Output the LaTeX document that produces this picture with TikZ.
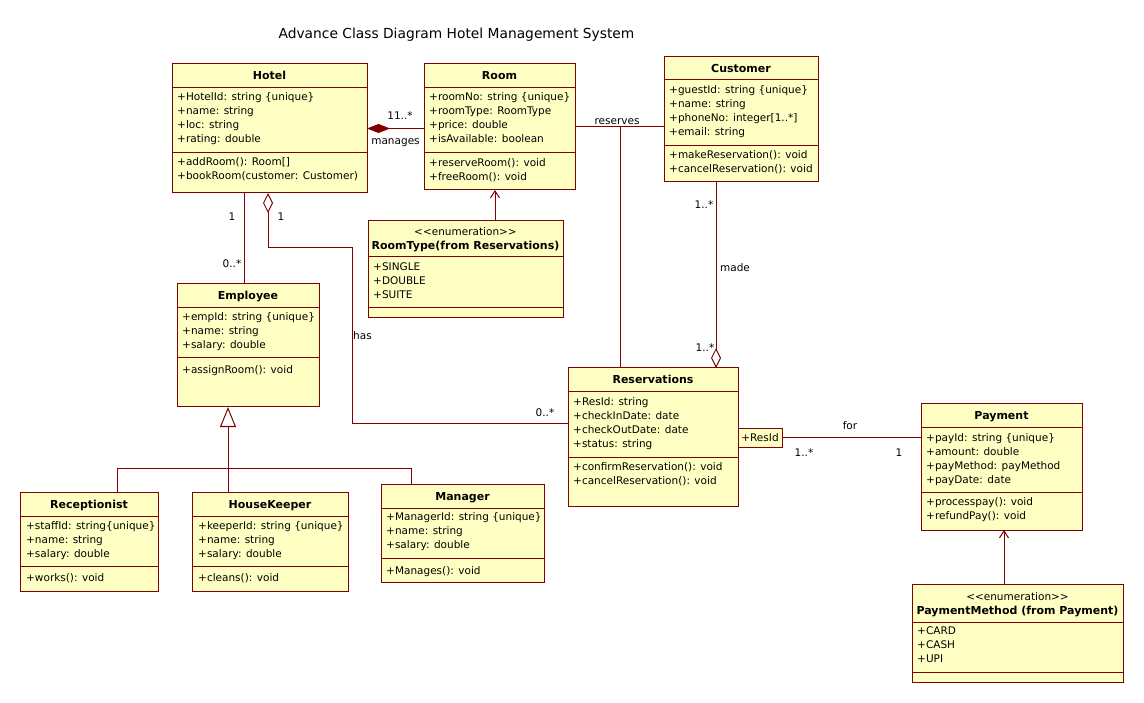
\documentclass[tikz,border=0pt]{standalone}
\usepackage{fontspec}
\setmainfont{DejaVu Sans}
\usepackage{tikz}
\usetikzlibrary{arrows.meta,positioning,calc}
\definecolor{umlline}{RGB}{128,0,0}
\definecolor{umlfill}{RGB}{255,255,196}

\begin{document}
\begin{tikzpicture}[x=1pt,y=-1pt,
  box/.style={draw=umlline,fill=umlfill,line width=1pt,inner sep=0pt,outer sep=0pt,anchor=north west},
  cname/.style={font=\bfseries\fontsize{11}{13}\selectfont,inner sep=0pt,anchor=base},
  stereo/.style={font=\fontsize{10.5}{13}\selectfont,inner sep=0pt,anchor=base},
  members/.style={font=\fontsize{10.5}{14}\selectfont,inner sep=0pt,anchor=north west,align=left,execute at begin node=\strut},
  lbl/.style={font=\fontsize{10.5}{13}\selectfont,inner sep=0pt},
  rel/.style={draw=umlline,line width=1pt},
  comp/.style={{Diamond[length=23pt,width=9pt,fill=umlline]}-},
  aggr/.style={{Diamond[length=20pt,width=10pt,fill=white]}-},
  navi/.style={-{Straight Barb[length=7pt,width=9pt]}},
  inherit/.style={{Triangle[length=20pt,width=16pt,fill=white]}-}]
\fill[white] (0,0) rectangle (1144,703);
\useasboundingbox (0,0) rectangle (1144,703);

\node[font=\fontsize{13.8}{16}\selectfont,inner sep=0pt] (title) at (456.5,35) {Advance Class Diagram Hotel Management System};

% Hotel
\node[box,minimum width=195pt,minimum height=129pt] (hotel) at (172,64) {};
\draw[rel] (172,87.5) -- (367,87.5) (172,152.5) -- (367,152.5);
\node[cname] (hotel-t) at (269.5,80) {Hotel};
\node[members] (hotel-a) at (177,92.5) {+HotelId: string \{unique\}\\+name: string\\+loc: string\\+rating: double};
\node[members] (hotel-o) at (177,157.5) {+addRoom(): Room[]\\+bookRoom(customer: Customer)};

% Room
\node[box,minimum width=151pt,minimum height=126pt] (room) at (424,64) {};
\draw[rel] (424,87.5) -- (575,87.5) (424,153) -- (575,153);
\node[cname] (room-t) at (499.5,80) {Room};
\node[members] (room-a) at (429,92.5) {+roomNo: string \{unique\}\\+roomType: RoomType\\+price: double\\+isAvailable: boolean};
\node[members] (room-o) at (429,158) {+reserveRoom(): void\\+freeRoom(): void};

% Customer
\node[box,minimum width=154pt,minimum height=125pt] (customer) at (664,57) {};
\draw[rel] (664,79.5) -- (818,79.5) (664,146) -- (818,146);
\node[cname] (customer-t) at (741,73) {Customer};
\node[members] (customer-a) at (669,85.5) {+guestId: string \{unique\}\\+name: string\\+phoneNo: integer[1..*]\\+email: string};
\node[members] (customer-o) at (669,150.5) {+makeReservation(): void\\+cancelReservation(): void};

% RoomType
\node[box,minimum width=195pt,minimum height=97pt] (roomtype) at (368,221) {};
\draw[rel] (368,257) -- (563,257) (368,308) -- (563,308);
\node[stereo] (roomtype-s) at (465.5,236) {<\kern0pt<enumeration>\kern0pt>};
\node[cname] (roomtype-t) at (465.5,250) {RoomType(from Reservations)};
\node[members] (roomtype-a) at (373,263) {+SINGLE\\+DOUBLE\\+SUITE};

% Employee
\node[box,minimum width=142pt,minimum height=123pt] (employee) at (177,284) {};
\draw[rel] (177,307.5) -- (319,307.5) (177,358) -- (319,358);
\node[cname] (employee-t) at (248,300) {Employee};
\node[members] (employee-a) at (182,312.5) {+empId: string \{unique\}\\+name: string\\+salary: double};
\node[members] (employee-o) at (182,363.5) {+assignRoom(): void};

% Reservations
\node[box,minimum width=170pt,minimum height=138pt] (reservations) at (568,368) {};
\draw[rel] (568,392) -- (738,392) (568,457) -- (738,457);
\node[cname] (reservations-t) at (653,384) {Reservations};
\node[members] (reservations-a) at (573,397) {+ResId: string\\+checkInDate: date\\+checkOutDate: date\\+status: string};
\node[members] (reservations-o) at (573,462) {+confirmReservation(): void\\+cancelReservation(): void};
\node[box,minimum width=44pt,minimum height=19pt,font=\fontsize{10.5}{13}\selectfont] (resid) at (738,428) {+ResId};

% Payment
\node[box,minimum width=161pt,minimum height=126pt] (payment) at (921,404) {};
\draw[rel] (921,427.5) -- (1082,427.5) (921,492) -- (1082,492);
\node[cname] (payment-t) at (1001.5,420) {Payment};
\node[members] (payment-a) at (926,433) {+payId: string \{unique\}\\+amount: double\\+payMethod: payMethod\\+payDate: date};
\node[members] (payment-o) at (926,497.5) {+processpay(): void\\+refundPay(): void};

% PaymentMethod
\node[box,minimum width=211pt,minimum height=98pt] (paymethod) at (912,584) {};
\draw[rel] (912,622) -- (1123,622) (912,672) -- (1123,672);
\node[stereo] (paymethod-s) at (1017.5,600) {<\kern0pt<enumeration>\kern0pt>};
\node[cname] (paymethod-t) at (1017.5,614) {PaymentMethod (from Payment)};
\node[members] (paymethod-a) at (917,627) {+CARD\\+CASH\\+UPI};

% Receptionist
\node[box,minimum width=138pt,minimum height=99pt] (receptionist) at (20,492) {};
\draw[rel] (20,516) -- (158,516) (20,566) -- (158,566);
\node[cname] (receptionist-t) at (89,508) {Receptionist};
\node[members] (receptionist-a) at (26,521) {+staffId: string\{unique\}\\+name: string\\+salary: double};
\node[members] (receptionist-o) at (26,571) {+works(): void};

% HouseKeeper
\node[box,minimum width=156pt,minimum height=99pt] (housekeeper) at (192,492) {};
\draw[rel] (192,516) -- (348,516) (192,566) -- (348,566);
\node[cname] (housekeeper-t) at (270,508) {HouseKeeper};
\node[members] (housekeeper-a) at (198,521) {+keeperId: string \{unique\}\\+name: string\\+salary: double};
\node[members] (housekeeper-o) at (198,571) {+cleans(): void};

% Manager
\node[box,minimum width=163pt,minimum height=98pt] (manager) at (381,484) {};
\draw[rel] (381,508) -- (544,508) (381,558) -- (544,558);
\node[cname] (manager-t) at (462.5,500) {Manager};
\node[members] (manager-a) at (386,512.5) {+ManagerId: string \{unique\}\\+name: string\\+salary: double};
\node[members] (manager-o) at (386,564) {+Manages(): void};

% Hotel -- Room
\draw[rel,comp] (hotel.east) -- (hotel.east -| room.west);
\node[lbl] (hr-m) at (400,116) {11..*};
\node[lbl] (hr-l) at (395.5,143) {manages};

% Room -- Customer, reserves
\draw[rel] (room.east) -- (room.east -| customer.west);
\coordinate (rsv) at ($(room.east)+(45,0)$);
\draw[rel] (rsv) -- (rsv |- reservations.north);
\node[lbl,anchor=base] (rc-l) at (617,125) {reserves};

% Customer -- Reservations
\coordinate (made) at ($(reservations.north east)+(-22,0)$);
\draw[rel,aggr] (made) -- (made |- customer.south);
\node[lbl] (cr-m1) at (704,205) {1..*};
\node[lbl] (cr-l) at (735,268) {made};
\node[lbl] (cr-m2) at (705,348) {1..*};

% Hotel -- Employee
\coordinate (he) at ($(employee.north)+(-4,0)$);
\draw[rel] (he) -- (he |- hotel.south);
\node[lbl] (he-m1) at (232,217) {1};
\node[lbl] (he-m2) at (232,264) {0..*};

% Hotel -- Reservations
\coordinate (has) at ($(hotel.south west)+(96,0)$);
\coordinate (hasend) at ($(reservations.north west)+(0,56)$);
\draw[rel,aggr] (has) |- (352,248) |- (hasend);
\node[lbl] (hres-m1) at (281,217) {1};
\node[lbl] (hres-l) at (362.5,336) {has};
\node[lbl] (hres-m2) at (545,413) {0..*};

% Employee generalization
\coordinate (gen) at ($(employee.south)+(-20,61)$);
\draw[rel,inherit] ($(employee.south)+(-20,0)$) -- (gen);
\draw[rel] ($(receptionist.north west)+(97,0)$) |- ($(manager.north west)+(30,-16)$) -- ($(manager.north west)+(30,0)$);
\draw[rel] ($(housekeeper.north west)+(36,0)$) -- (gen);

% RoomType -> Room
\coordinate (rt) at ($(roomtype.north)+(29.5,0)$);
\draw[rel,navi] (rt) -- (rt |- room.south);

% Reservations -- Payment
\draw[rel] (resid.east) -- (resid.east -| payment.west);
\node[lbl] (rp-l) at (850,426) {for};
\node[lbl] (rp-m1) at (804,453) {1..*};
\node[lbl] (rp-m2) at (899,453) {1};

% PaymentMethod -> Payment
\coordinate (pm) at ($(paymethod.north)+(-13.5,0)$);
\draw[rel,navi] (pm) -- (pm |- payment.south);
\end{tikzpicture}
\end{document}
